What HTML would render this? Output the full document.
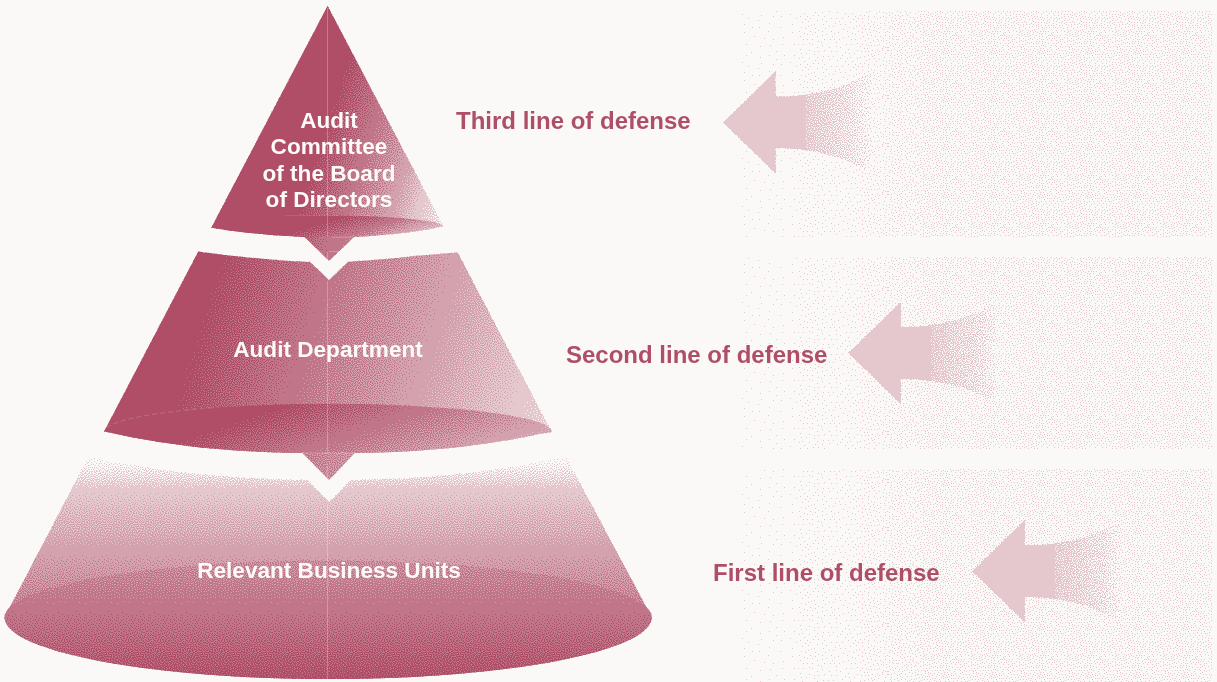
<!DOCTYPE html><html><head><meta charset="utf-8"><title>Three lines of defense</title><style>
html,body{margin:0;padding:0;background:#fbf9f8;}
body{width:1217px;height:682px;overflow:hidden;position:relative;font-family:"Liberation Sans",sans-serif;font-weight:bold;}
svg{position:absolute;left:0;top:0;display:block}
.t{position:absolute;white-space:nowrap;line-height:1;will-change:transform;}
.w{color:#fdfbfa;font-size:22.6px;text-align:center;transform:translateX(-50%);}
.d{color:#af4e67;font-size:24px;}
</style></head><body><svg width="1217" height="682" viewBox="0 0 1217 682"><defs><linearGradient id="g1" gradientUnits="userSpaceOnUse" x1="327.8" y1="119.9" x2="466.5" y2="162.9" ><stop offset="0.0000" stop-color="#ffffff"/><stop offset="0.3060" stop-color="#c1c1c1"/><stop offset="0.6050" stop-color="#818181"/><stop offset="0.7800" stop-color="#414141"/><stop offset="1.0000" stop-color="#131313"/></linearGradient><linearGradient id="g2" gradientUnits="userSpaceOnUse" x1="203.5" y1="311.4" x2="555.6" y2="420.5" ><stop offset="0.0000" stop-color="#ffffff"/><stop offset="0.2925" stop-color="#c1c1c1"/><stop offset="0.6175" stop-color="#818181"/><stop offset="0.8925" stop-color="#414141"/><stop offset="1.0000" stop-color="#2e2e2e"/></linearGradient><linearGradient id="g3" gradientUnits="userSpaceOnUse" x1="0.0" y1="456.0" x2="0.0" y2="682.0" ><stop offset="0.0000" stop-color="#070707"/><stop offset="0.0440" stop-color="#101010"/><stop offset="0.0970" stop-color="#272727"/><stop offset="0.1500" stop-color="#414141"/><stop offset="0.4200" stop-color="#818181"/><stop offset="0.7596" stop-color="#c1c1c1"/><stop offset="1.0000" stop-color="#f3f3f3"/></linearGradient><linearGradient id="ge3" gradientUnits="userSpaceOnUse" x1="0.0" y1="550.0" x2="0.0" y2="682.0" ><stop offset="0.0000" stop-color="#9b9b9b"/><stop offset="0.0076" stop-color="#9b9b9b"/><stop offset="0.0758" stop-color="#9f9f9f"/><stop offset="0.4403" stop-color="#c1c1c1"/><stop offset="0.9848" stop-color="#f9f9f9"/><stop offset="1.0000" stop-color="#fafafa"/></linearGradient><linearGradient id="ge1" gradientUnits="userSpaceOnUse" x1="311.3" y1="221.6" x2="449.9" y2="264.6" gradientTransform="translate(0 226.80) scale(1 0.0980) translate(0 -226.80)"><stop offset="0.0000" stop-color="#ffffff"/><stop offset="0.4300" stop-color="#c1c1c1"/><stop offset="0.7000" stop-color="#818181"/><stop offset="0.9578" stop-color="#414141"/><stop offset="1.0000" stop-color="#393939"/></linearGradient><linearGradient id="ge2" gradientUnits="userSpaceOnUse" x1="216.8" y1="397.3" x2="536.1" y2="496.3" gradientTransform="translate(0 431.80) scale(1 0.1100) translate(0 -431.80)"><stop offset="0.0000" stop-color="#ffffff"/><stop offset="0.4255" stop-color="#c1c1c1"/><stop offset="0.8982" stop-color="#818181"/><stop offset="1.0000" stop-color="#717171"/></linearGradient><linearGradient id="gq1" gradientUnits="userSpaceOnUse" x1="304.0" y1="0.0" x2="355.0" y2="0.0" ><stop offset="0.0000" stop-color="#ebebeb"/><stop offset="0.4000" stop-color="#c5c5c5"/><stop offset="0.5680" stop-color="#c1c1c1"/><stop offset="1.0000" stop-color="#b8b8b8"/></linearGradient><linearGradient id="gq2" gradientUnits="userSpaceOnUse" x1="302.0" y1="0.0" x2="356.0" y2="0.0" ><stop offset="0.0000" stop-color="#b5b5b5"/><stop offset="0.5000" stop-color="#a2a2a2"/><stop offset="1.0000" stop-color="#989898"/></linearGradient><pattern id="bay" width="32" height="32" patternUnits="userSpaceOnUse" shape-rendering="crispEdges"><path fill="#000000" d="M2,0h1v1h-1zM26,7h1v1h-1z"/><path fill="#010101" d="M12,7h1v1h-1zM26,16h1v1h-1zM5,21h1v1h-1zM18,21h1v1h-1z"/><path fill="#020202" d="M19,11h1v1h-1zM4,12h1v1h-1zM12,15h1v1h-1zM27,25h1v1h-1zM16,31h1v1h-1z"/><path fill="#030303" d="M24,0h1v1h-1zM6,5h1v1h-1zM12,22h1v1h-1zM9,28h1v1h-1z"/><path fill="#040404" d="M19,5h1v1h-1zM0,7h1v1h-1zM0,17h1v1h-1zM1,26h1v1h-1z"/><path fill="#050505" d="M11,1h1v1h-1zM29,2h1v1h-1zM30,12h1v1h-1zM21,27h1v1h-1z"/><path fill="#060606" d="M9,11h1v1h-1zM7,16h1v1h-1zM20,16h1v1h-1zM23,21h1v1h-1zM15,26h1v1h-1z"/><path fill="#070707" d="M14,11h1v1h-1zM24,11h1v1h-1zM30,21h1v1h-1zM29,29h1v1h-1z"/><path fill="#080808" d="M6,0h1v1h-1zM15,4h1v1h-1zM15,18h1v1h-1zM6,25h1v1h-1z"/><path fill="#090909" d="M20,0h1v1h-1zM2,4h1v1h-1zM23,4h1v1h-1zM4,8h1v1h-1zM9,19h1v1h-1z"/><path fill="#0a0a0a" d="M22,8h1v1h-1zM16,14h1v1h-1zM4,28h1v1h-1zM25,28h1v1h-1z"/><path fill="#0b0b0b" d="M16,8h1v1h-1zM27,20h1v1h-1zM2,22h1v1h-1zM13,29h1v1h-1z"/><path fill="#0c0c0c" d="M9,4h1v1h-1zM3,16h1v1h-1zM19,24h1v1h-1zM10,25h1v1h-1z"/><path fill="#0d0d0d" d="M8,8h1v1h-1zM29,9h1v1h-1zM23,14h1v1h-1zM23,24h1v1h-1zM18,28h1v1h-1z"/><path fill="#0e0e0e" d="M29,5h1v1h-1zM1,11h1v1h-1zM29,15h1v1h-1zM23,18h1v1h-1z"/><path fill="#0f0f0f" d="M26,3h1v1h-1zM15,22h1v1h-1zM30,25h1v1h-1zM0,30h1v1h-1z"/><path fill="#101010" d="M17,2h1v1h-1zM27,12h1v1h-1zM12,18h1v1h-1zM8,22h1v1h-1z"/><path fill="#111111" d="M7,13h1v1h-1zM18,18h1v1h-1zM3,19h1v1h-1zM9,31h1v1h-1zM27,31h1v1h-1z"/><path fill="#121212" d="M0,2h1v1h-1zM12,4h1v1h-1zM19,8h1v1h-1zM22,30h1v1h-1z"/><path fill="#131313" d="M5,2h1v1h-1zM11,12h1v1h-1zM1,14h1v1h-1zM29,18h1v1h-1z"/><path fill="#141414" d="M14,1h1v1h-1zM21,3h1v1h-1zM20,13h1v1h-1zM26,23h1v1h-1zM13,25h1v1h-1z"/><path fill="#151515" d="M6,18h1v1h-1zM21,20h1v1h-1zM3,24h1v1h-1zM6,29h1v1h-1z"/><path fill="#161616" d="M12,9h1v1h-1zM6,10h1v1h-1zM9,15h1v1h-1zM0,20h1v1h-1z"/><path fill="#171717" d="M3,6h1v1h-1zM26,9h1v1h-1zM16,11h1v1h-1zM17,25h1v1h-1z"/><path fill="#181818" d="M30,0h1v1h-1zM8,2h1v1h-1zM24,6h1v1h-1zM24,26h1v1h-1zM2,29h1v1h-1z"/><path fill="#191919" d="M16,6h1v1h-1zM14,15h1v1h-1zM31,23h1v1h-1zM19,30h1v1h-1z"/><path fill="#1a1a1a" d="M1,9h1v1h-1zM22,11h1v1h-1zM28,27h1v1h-1zM11,28h1v1h-1z"/><path fill="#1b1b1b" d="M9,6h1v1h-1zM18,15h1v1h-1zM25,19h1v1h-1zM13,20h1v1h-1z"/><path fill="#1c1c1c" d="M31,5h1v1h-1zM4,14h1v1h-1zM26,14h1v1h-1zM21,23h1v1h-1zM15,29h1v1h-1z"/><path fill="#1d1d1d" d="M10,21h1v1h-1zM8,25h1v1h-1zM31,27h1v1h-1zM12,31h1v1h-1z"/><path fill="#1e1e1e" d="M26,1h1v1h-1zM21,6h1v1h-1zM22,16h1v1h-1zM4,31h1v1h-1z"/><path fill="#1f1f1f" d="M19,2h1v1h-1zM27,5h1v1h-1zM31,14h1v1h-1zM16,20h1v1h-1zM28,22h1v1h-1z"/><path fill="#202020" d="M30,9h1v1h-1zM10,17h1v1h-1zM4,26h1v1h-1zM24,30h1v1h-1z"/><path fill="#212121" d="M3,2h1v1h-1zM6,7h1v1h-1zM14,7h1v1h-1zM6,22h1v1h-1z"/><path fill="#222222" d="M23,2h1v1h-1zM10,9h1v1h-1zM13,13h1v1h-1zM20,26h1v1h-1z"/><path fill="#232323" d="M3,10h1v1h-1zM28,17h1v1h-1zM2,18h1v1h-1zM20,19h1v1h-1zM16,23h1v1h-1z"/><path fill="#242424" d="M13,3h1v1h-1zM18,10h1v1h-1zM11,24h1v1h-1zM7,28h1v1h-1z"/><path fill="#252525" d="M24,9h1v1h-1zM16,17h1v1h-1zM25,22h1v1h-1zM27,29h1v1h-1z"/><path fill="#262626" d="M17,0h1v1h-1zM9,13h1v1h-1zM5,16h1v1h-1zM1,24h1v1h-1z"/><path fill="#272727" d="M5,4h1v1h-1zM18,5h1v1h-1zM28,11h1v1h-1zM7,19h1v1h-1zM8,31h1v1h-1z"/><path fill="#282828" d="M31,3h1v1h-1zM24,16h1v1h-1zM13,27h1v1h-1zM22,28h1v1h-1z"/><path fill="#292929" d="M29,7h1v1h-1zM31,18h1v1h-1zM17,28h1v1h-1zM31,30h1v1h-1z"/><path fill="#2a2a2a" d="M10,2h1v1h-1zM21,9h1v1h-1zM6,11h1v1h-1zM17,13h1v1h-1zM19,22h1v1h-1z"/><path fill="#2b2b2b" d="M22,0h1v1h-1zM11,6h1v1h-1zM0,12h1v1h-1zM24,13h1v1h-1z"/><path fill="#2c2c2c" d="M1,6h1v1h-1zM14,9h1v1h-1zM3,21h1v1h-1zM29,24h1v1h-1z"/><path fill="#2d2d2d" d="M14,0h1v1h-1zM28,1h1v1h-1zM13,17h1v1h-1zM25,26h1v1h-1z"/><path fill="#2e2e2e" d="M21,13h1v1h-1zM28,14h1v1h-1zM14,23h1v1h-1zM5,24h1v1h-1zM2,27h1v1h-1z"/><path fill="#2f2f2f" d="M1,0h1v1h-1zM16,3h1v1h-1zM25,4h1v1h-1zM26,18h1v1h-1z"/><path fill="#303030" d="M7,3h1v1h-1zM1,15h1v1h-1zM9,23h1v1h-1zM11,30h1v1h-1z"/><path fill="#313131" d="M6,14h1v1h-1zM19,17h1v1h-1zM11,20h1v1h-1zM22,24h1v1h-1z"/><path fill="#323232" d="M18,8h1v1h-1zM12,11h1v1h-1zM29,20h1v1h-1zM9,27h1v1h-1zM20,29h1v1h-1z"/><path fill="#333333" d="M8,9h1v1h-1zM10,15h1v1h-1zM23,20h1v1h-1zM4,30h1v1h-1z"/><path fill="#343434" d="M22,6h1v1h-1zM3,8h1v1h-1zM26,10h1v1h-1zM30,27h1v1h-1z"/><path fill="#353535" d="M3,12h1v1h-1zM5,19h1v1h-1zM0,21h1v1h-1zM17,26h1v1h-1zM26,30h1v1h-1z"/><path fill="#363636" d="M20,2h1v1h-1zM2,3h1v1h-1zM14,5h1v1h-1zM31,10h1v1h-1z"/><path fill="#373737" d="M28,4h1v1h-1zM15,13h1v1h-1zM30,16h1v1h-1zM15,20h1v1h-1z"/><path fill="#383838" d="M7,0h1v1h-1zM8,6h1v1h-1zM6,27h1v1h-1zM29,31h1v1h-1z"/><path fill="#393939" d="M27,7h1v1h-1zM19,14h1v1h-1zM9,18h1v1h-1zM12,26h1v1h-1zM18,31h1v1h-1z"/><path fill="#3a3a3a" d="M22,17h1v1h-1zM18,20h1v1h-1zM26,24h1v1h-1zM15,28h1v1h-1z"/><path fill="#3b3b3b" d="M24,2h1v1h-1zM11,3h1v1h-1zM16,10h1v1h-1zM16,16h1v1h-1z"/><path fill="#3c3c3c" d="M4,5h1v1h-1zM21,10h1v1h-1zM0,24h1v1h-1zM1,28h1v1h-1z"/><path fill="#3d3d3d" d="M31,7h1v1h-1zM25,13h1v1h-1zM3,17h1v1h-1zM7,21h1v1h-1zM23,28h1v1h-1z"/><path fill="#3e3e3e" d="M24,7h1v1h-1zM26,21h1v1h-1zM19,25h1v1h-1zM27,27h1v1h-1z"/><path fill="#3f3f3f" d="M31,1h1v1h-1zM18,4h1v1h-1zM5,9h1v1h-1zM21,22h1v1h-1z"/><path fill="#404040" d="M4,1h1v1h-1zM11,13h1v1h-1zM4,23h1v1h-1zM12,23h1v1h-1zM14,31h1v1h-1z"/><path fill="#414141" d="M10,0h1v1h-1zM11,8h1v1h-1zM8,11h1v1h-1zM29,13h1v1h-1z"/><path fill="#424242" d="M2,13h1v1h-1zM7,15h1v1h-1zM1,19h1v1h-1zM17,23h1v1h-1z"/><path fill="#434343" d="M26,17h1v1h-1zM13,18h1v1h-1zM8,24h1v1h-1zM21,31h1v1h-1z"/><path fill="#444444" d="M0,4h1v1h-1zM21,4h1v1h-1zM17,7h1v1h-1zM29,23h1v1h-1zM9,29h1v1h-1z"/><path fill="#454545" d="M25,0h1v1h-1zM15,2h1v1h-1zM22,14h1v1h-1zM23,25h1v1h-1z"/><path fill="#464646" d="M8,4h1v1h-1zM28,9h1v1h-1zM18,12h1v1h-1zM15,25h1v1h-1z"/><path fill="#474747" d="M28,3h1v1h-1zM13,15h1v1h-1zM30,29h1v1h-1zM6,30h1v1h-1z"/><path fill="#484848" d="M13,6h1v1h-1zM1,8h1v1h-1zM21,19h1v1h-1zM29,19h1v1h-1zM3,26h1v1h-1z"/><path fill="#494949" d="M20,7h1v1h-1zM24,10h1v1h-1zM0,16h1v1h-1zM2,30h1v1h-1z"/><path fill="#4a4a4a" d="M13,10h1v1h-1zM13,21h1v1h-1zM24,22h1v1h-1zM19,28h1v1h-1z"/><path fill="#4b4b4b" d="M5,7h1v1h-1zM5,13h1v1h-1zM8,17h1v1h-1zM17,18h1v1h-1zM12,28h1v1h-1z"/><path fill="#4c4c4c" d="M25,5h1v1h-1zM9,21h1v1h-1zM1,22h1v1h-1zM16,30h1v1h-1z"/><path fill="#4d4d4d" d="M12,1h1v1h-1zM31,11h1v1h-1zM27,15h1v1h-1zM7,26h1v1h-1z"/><path fill="#4e4e4e" d="M18,1h1v1h-1zM6,2h1v1h-1zM4,20h1v1h-1zM25,29h1v1h-1z"/><path fill="#4f4f4f" d="M22,1h1v1h-1zM10,5h1v1h-1zM4,16h1v1h-1zM24,18h1v1h-1zM29,26h1v1h-1z"/><path fill="#505050" d="M29,6h1v1h-1zM10,10h1v1h-1zM21,11h1v1h-1zM21,26h1v1h-1z"/><path fill="#515151" d="M28,0h1v1h-1zM1,1h1v1h-1zM19,16h1v1h-1zM11,17h1v1h-1z"/><path fill="#525252" d="M15,8h1v1h-1zM26,12h1v1h-1zM0,26h1v1h-1zM10,26h1v1h-1z"/><path fill="#535353" d="M2,5h1v1h-1zM7,8h1v1h-1zM2,10h1v1h-1zM14,13h1v1h-1zM19,21h1v1h-1z"/><path fill="#545454" d="M16,5h1v1h-1zM8,13h1v1h-1zM28,21h1v1h-1zM6,23h1v1h-1z"/><path fill="#555555" d="M30,14h1v1h-1zM14,24h1v1h-1zM26,25h1v1h-1zM5,28h1v1h-1z"/><path fill="#565656" d="M9,1h1v1h-1zM30,3h1v1h-1zM23,8h1v1h-1zM24,15h1v1h-1zM31,19h1v1h-1z"/><path fill="#575757" d="M26,2h1v1h-1zM16,15h1v1h-1zM12,30h1v1h-1zM23,30h1v1h-1z"/><path fill="#585858" d="M22,4h1v1h-1zM19,10h1v1h-1zM6,19h1v1h-1zM16,27h1v1h-1z"/><path fill="#595959" d="M4,0h1v1h-1zM5,11h1v1h-1zM15,19h1v1h-1zM31,31h1v1h-1z"/><path fill="#5a5a5a" d="M13,4h1v1h-1zM2,14h1v1h-1zM11,14h1v1h-1zM25,20h1v1h-1zM2,24h1v1h-1z"/><path fill="#5b5b5b" d="M5,5h1v1h-1zM28,10h1v1h-1zM11,21h1v1h-1zM18,24h1v1h-1z"/><path fill="#5c5c5c" d="M21,15h1v1h-1zM22,22h1v1h-1zM28,29h1v1h-1zM19,31h1v1h-1z"/><path fill="#5d5d5d" d="M19,6h1v1h-1zM10,7h1v1h-1zM31,22h1v1h-1zM8,30h1v1h-1z"/><path fill="#5e5e5e" d="M16,1h1v1h-1zM31,8h1v1h-1zM15,11h1v1h-1zM29,17h1v1h-1zM0,28h1v1h-1z"/><path fill="#5f5f5f" d="M26,6h1v1h-1zM23,12h1v1h-1zM21,18h1v1h-1zM23,27h1v1h-1z"/><path fill="#606060" d="M6,16h1v1h-1zM2,20h1v1h-1zM16,21h1v1h-1zM10,24h1v1h-1z"/><path fill="#616161" d="M3,3h1v1h-1zM19,3h1v1h-1zM18,13h1v1h-1zM10,19h1v1h-1zM28,24h1v1h-1z"/><path fill="#626262" d="M1,17h1v1h-1zM5,25h1v1h-1zM14,28h1v1h-1zM3,29h1v1h-1z"/><path fill="#636363" d="M13,1h1v1h-1zM11,11h1v1h-1zM31,12h1v1h-1zM19,27h1v1h-1z"/><path fill="#646464" d="M7,5h1v1h-1zM2,7h1v1h-1zM14,16h1v1h-1zM24,24h1v1h-1z"/><path fill="#656565" d="M30,5h1v1h-1zM26,8h1v1h-1zM17,9h1v1h-1zM27,19h1v1h-1zM26,31h1v1h-1z"/><path fill="#666666" d="M24,3h1v1h-1zM7,11h1v1h-1zM27,13h1v1h-1zM26,27h1v1h-1z"/><path fill="#676767" d="M7,1h1v1h-1zM13,8h1v1h-1zM18,19h1v1h-1zM12,25h1v1h-1z"/><path fill="#686868" d="M9,16h1v1h-1zM4,22h1v1h-1zM20,24h1v1h-1zM17,30h1v1h-1z"/><path fill="#696969" d="M11,4h1v1h-1zM21,8h1v1h-1zM8,20h1v1h-1zM31,25h1v1h-1zM10,29h1v1h-1z"/><path fill="#6a6a6a" d="M2,11h1v1h-1zM25,16h1v1h-1zM21,30h1v1h-1zM1,31h1v1h-1z"/><path fill="#6b6b6b" d="M30,1h1v1h-1zM16,4h1v1h-1zM4,18h1v1h-1zM13,19h1v1h-1z"/><path fill="#6c6c6c" d="M21,1h1v1h-1zM5,8h1v1h-1zM31,15h1v1h-1zM15,23h1v1h-1zM8,27h1v1h-1z"/><path fill="#6d6d6d" d="M23,6h1v1h-1zM5,14h1v1h-1zM18,16h1v1h-1zM23,19h1v1h-1z"/><path fill="#6e6e6e" d="M1,3h1v1h-1zM9,8h1v1h-1zM25,11h1v1h-1zM21,12h1v1h-1z"/><path fill="#6f6f6f" d="M27,22h1v1h-1zM8,23h1v1h-1zM14,30h1v1h-1zM5,31h1v1h-1z"/><path fill="#707070" d="M27,3h1v1h-1zM29,11h1v1h-1zM13,12h1v1h-1zM3,27h1v1h-1zM29,28h1v1h-1z"/><path fill="#717171" d="M9,2h1v1h-1zM28,7h1v1h-1zM20,21h1v1h-1zM31,21h1v1h-1z"/><path fill="#727272" d="M17,12h1v1h-1zM9,14h1v1h-1zM28,16h1v1h-1zM24,31h1v1h-1z"/><path fill="#737373" d="M5,3h1v1h-1zM15,7h1v1h-1zM0,9h1v1h-1zM2,15h1v1h-1z"/><path fill="#747474" d="M20,5h1v1h-1zM12,16h1v1h-1zM14,26h1v1h-1zM22,26h1v1h-1zM11,31h1v1h-1z"/><path fill="#757575" d="M14,2h1v1h-1zM0,5h1v1h-1zM22,15h1v1h-1zM13,22h1v1h-1z"/><path fill="#767676" d="M4,10h1v1h-1zM2,23h1v1h-1zM24,23h1v1h-1zM18,27h1v1h-1z"/><path fill="#777777" d="M23,9h1v1h-1zM7,18h1v1h-1zM17,22h1v1h-1zM7,29h1v1h-1zM28,31h1v1h-1z"/><path fill="#787878" d="M18,2h1v1h-1zM19,9h1v1h-1zM11,27h1v1h-1zM0,29h1v1h-1z"/><path fill="#797979" d="M12,6h1v1h-1zM15,17h1v1h-1zM0,18h1v1h-1zM29,25h1v1h-1z"/><path fill="#7a7a7a" d="M7,6h1v1h-1zM9,10h1v1h-1zM6,21h1v1h-1zM5,26h1v1h-1z"/><path fill="#7b7b7b" d="M2,1h1v1h-1zM24,1h1v1h-1zM0,13h1v1h-1zM20,18h1v1h-1zM24,28h1v1h-1z"/><path fill="#7c7c7c" d="M25,14h1v1h-1zM27,18h1v1h-1zM10,22h1v1h-1zM21,29h1v1h-1z"/><path fill="#7d7d7d" d="M16,0h1v1h-1zM17,6h1v1h-1zM3,7h1v1h-1zM15,10h1v1h-1z"/><path fill="#7e7e7e" d="M24,5h1v1h-1zM15,14h1v1h-1zM20,14h1v1h-1zM24,20h1v1h-1z"/><path fill="#7f7f7f" d="M29,3h1v1h-1zM6,13h1v1h-1zM11,19h1v1h-1zM1,25h1v1h-1zM16,25h1v1h-1z"/><path fill="#808080" d="M10,3h1v1h-1zM27,10h1v1h-1zM3,20h1v1h-1zM29,22h1v1h-1z"/><path fill="#818181" d="M30,7h1v1h-1zM20,23h1v1h-1zM7,25h1v1h-1zM26,26h1v1h-1z"/><path fill="#828282" d="M21,2h1v1h-1zM10,12h1v1h-1zM4,17h1v1h-1zM17,29h1v1h-1z"/><path fill="#838383" d="M31,0h1v1h-1zM3,13h1v1h-1zM28,13h1v1h-1zM30,18h1v1h-1zM7,31h1v1h-1z"/><path fill="#848484" d="M14,4h1v1h-1zM23,17h1v1h-1zM17,19h1v1h-1zM3,30h1v1h-1z"/><path fill="#858585" d="M27,1h1v1h-1zM4,4h1v1h-1zM7,9h1v1h-1zM23,11h1v1h-1z"/><path fill="#868686" d="M12,0h1v1h-1zM19,0h1v1h-1zM13,9h1v1h-1zM11,15h1v1h-1zM14,20h1v1h-1z"/><path fill="#878787" d="M25,8h1v1h-1zM17,15h1v1h-1zM12,24h1v1h-1zM30,28h1v1h-1z"/><path fill="#888888" d="M19,7h1v1h-1zM0,10h1v1h-1zM22,21h1v1h-1zM26,29h1v1h-1z"/><path fill="#898989" d="M10,6h1v1h-1zM19,12h1v1h-1zM8,16h1v1h-1zM5,23h1v1h-1z"/><path fill="#8a8a8a" d="M7,2h1v1h-1zM26,5h1v1h-1zM21,25h1v1h-1zM9,26h1v1h-1zM13,28h1v1h-1z"/><path fill="#8b8b8b" d="M30,15h1v1h-1zM1,21h1v1h-1zM26,22h1v1h-1zM31,24h1v1h-1z"/><path fill="#8c8c8c" d="M0,3h1v1h-1zM21,5h1v1h-1zM4,27h1v1h-1zM10,30h1v1h-1z"/><path fill="#8d8d8d" d="M17,3h1v1h-1zM3,9h1v1h-1zM17,24h1v1h-1zM20,28h1v1h-1z"/><path fill="#8e8e8e" d="M23,0h1v1h-1zM3,1h1v1h-1zM17,10h1v1h-1zM12,13h1v1h-1zM8,19h1v1h-1z"/><path fill="#8f8f8f" d="M0,6h1v1h-1zM11,9h1v1h-1zM2,16h1v1h-1zM28,20h1v1h-1z"/><path fill="#909090" d="M7,12h1v1h-1zM26,15h1v1h-1zM20,17h1v1h-1zM15,31h1v1h-1z"/><path fill="#919191" d="M14,6h1v1h-1zM28,8h1v1h-1zM23,13h1v1h-1zM28,26h1v1h-1zM1,27h1v1h-1z"/><path fill="#929292" d="M12,2h1v1h-1zM8,5h1v1h-1zM24,25h1v1h-1zM29,30h1v1h-1z"/><path fill="#939393" d="M23,3h1v1h-1zM30,11h1v1h-1zM11,18h1v1h-1zM10,23h1v1h-1z"/><path fill="#949494" d="M4,6h1v1h-1zM22,9h1v1h-1zM25,18h1v1h-1zM5,29h1v1h-1z"/><path fill="#959595" d="M28,5h1v1h-1zM15,12h1v1h-1zM5,17h1v1h-1zM19,20h1v1h-1zM15,27h1v1h-1z"/><path fill="#969696" d="M9,0h1v1h-1zM2,12h1v1h-1zM14,17h1v1h-1zM14,22h1v1h-1z"/><path fill="#979797" d="M31,20h1v1h-1zM7,22h1v1h-1zM3,25h1v1h-1zM23,29h1v1h-1z"/><path fill="#989898" d="M5,1h1v1h-1zM26,11h1v1h-1zM18,30h1v1h-1zM0,31h1v1h-1z"/><path fill="#999999" d="M26,0h1v1h-1zM6,9h1v1h-1zM31,16h1v1h-1zM23,22h1v1h-1zM8,28h1v1h-1z"/><path fill="#9a9a9a" d="M17,8h1v1h-1zM17,17h1v1h-1zM2,19h1v1h-1zM18,26h1v1h-1z"/><path fill="#9b9b9b" d="M30,2h1v1h-1zM20,11h1v1h-1zM8,14h1v1h-1zM27,24h1v1h-1z"/><path fill="#9c9c9c" d="M19,4h1v1h-1zM5,20h1v1h-1zM18,22h1v1h-1zM11,26h1v1h-1zM13,30h1v1h-1z"/><path fill="#9d9d9d" d="M21,0h1v1h-1zM23,7h1v1h-1zM4,15h1v1h-1zM20,15h1v1h-1z"/><path fill="#9e9e9e" d="M25,3h1v1h-1zM2,6h1v1h-1zM30,23h1v1h-1zM27,28h1v1h-1z"/><path fill="#9f9f9f" d="M7,4h1v1h-1zM12,5h1v1h-1zM12,10h1v1h-1zM28,15h1v1h-1z"/><path fill="#a0a0a0" d="M16,2h1v1h-1zM30,8h1v1h-1zM14,14h1v1h-1zM23,16h1v1h-1zM3,23h1v1h-1z"/><path fill="#a1a1a1" d="M4,11h1v1h-1zM31,13h1v1h-1zM12,20h1v1h-1zM0,27h1v1h-1z"/><path fill="#a2a2a2" d="M9,7h1v1h-1zM26,20h1v1h-1zM7,24h1v1h-1zM3,31h1v1h-1z"/><path fill="#a3a3a3" d="M9,17h1v1h-1zM22,19h1v1h-1zM21,24h1v1h-1zM14,25h1v1h-1z"/><path fill="#a4a4a4" d="M20,8h1v1h-1zM9,12h1v1h-1zM17,14h1v1h-1zM16,19h1v1h-1zM24,27h1v1h-1z"/><path fill="#a5a5a5" d="M30,4h1v1h-1zM17,5h1v1h-1zM25,9h1v1h-1zM28,18h1v1h-1z"/><path fill="#a6a6a6" d="M29,0h1v1h-1zM11,2h1v1h-1zM3,4h1v1h-1zM16,29h1v1h-1z"/><path fill="#a7a7a7" d="M14,8h1v1h-1zM2,9h1v1h-1zM28,12h1v1h-1zM9,20h1v1h-1zM6,31h1v1h-1z"/><path fill="#a8a8a8" d="M19,1h1v1h-1zM0,23h1v1h-1zM7,27h1v1h-1zM21,28h1v1h-1z"/><path fill="#a9a9a9" d="M24,12h1v1h-1zM1,18h1v1h-1zM1,29h1v1h-1zM11,29h1v1h-1z"/><path fill="#aaaaaa" d="M1,2h1v1h-1zM22,5h1v1h-1zM7,7h1v1h-1zM11,16h1v1h-1z"/><path fill="#ababab" d="M27,6h1v1h-1zM6,15h1v1h-1zM16,22h1v1h-1zM11,23h1v1h-1zM25,23h1v1h-1z"/><path fill="#acacac" d="M27,2h1v1h-1zM14,3h1v1h-1zM30,26h1v1h-1zM25,30h1v1h-1z"/><path fill="#adadad" d="M9,3h1v1h-1zM17,11h1v1h-1zM1,13h1v1h-1zM30,20h1v1h-1z"/><path fill="#aeaeae" d="M31,9h1v1h-1zM12,12h1v1h-1zM25,15h1v1h-1zM20,20h1v1h-1z"/><path fill="#afafaf" d="M15,0h1v1h-1zM8,10h1v1h-1zM21,14h1v1h-1zM4,21h1v1h-1zM19,26h1v1h-1z"/><path fill="#b0b0b0" d="M5,12h1v1h-1zM14,18h1v1h-1zM20,30h1v1h-1zM30,30h1v1h-1z"/><path fill="#b1b1b1" d="M8,0h1v1h-1zM22,2h1v1h-1zM11,7h1v1h-1zM4,25h1v1h-1z"/><path fill="#b2b2b2" d="M6,3h1v1h-1zM16,7h1v1h-1zM20,10h1v1h-1zM5,18h1v1h-1zM12,27h1v1h-1z"/><path fill="#b3b3b3" d="M31,6h1v1h-1zM1,16h1v1h-1zM18,17h1v1h-1zM4,29h1v1h-1z"/><path fill="#b4b4b4" d="M5,6h1v1h-1zM19,23h1v1h-1zM28,23h1v1h-1zM9,25h1v1h-1z"/><path fill="#b5b5b5" d="M27,9h1v1h-1zM27,17h1v1h-1zM8,21h1v1h-1zM16,26h1v1h-1z"/><path fill="#b6b6b6" d="M25,6h1v1h-1zM24,19h1v1h-1zM14,21h1v1h-1zM23,26h1v1h-1zM23,31h1v1h-1z"/><path fill="#b7b7b7" d="M11,0h1v1h-1zM0,1h1v1h-1zM13,14h1v1h-1zM28,28h1v1h-1z"/><path fill="#b8b8b8" d="M20,6h1v1h-1zM14,10h1v1h-1zM18,14h1v1h-1zM30,17h1v1h-1z"/><path fill="#b9b9b9" d="M4,2h1v1h-1zM22,12h1v1h-1zM29,12h1v1h-1zM8,29h1v1h-1z"/><path fill="#bababa" d="M18,0h1v1h-1zM7,17h1v1h-1zM21,17h1v1h-1zM2,21h1v1h-1zM23,23h1v1h-1z"/><path fill="#bbbbbb" d="M25,2h1v1h-1zM3,14h1v1h-1zM10,14h1v1h-1zM13,24h1v1h-1z"/><path fill="#bcbcbc" d="M1,5h1v1h-1zM15,5h1v1h-1zM1,10h1v1h-1zM2,26h1v1h-1z"/><path fill="#bdbdbd" d="M20,3h1v1h-1zM10,4h1v1h-1zM5,10h1v1h-1zM26,13h1v1h-1zM14,29h1v1h-1z"/><path fill="#bebebe" d="M9,9h1v1h-1zM15,16h1v1h-1zM6,24h1v1h-1zM27,26h1v1h-1z"/><path fill="#bfbfbf" d="M27,4h1v1h-1zM18,29h1v1h-1zM27,30h1v1h-1zM2,31h1v1h-1z"/><path fill="#c0c0c0" d="M23,10h1v1h-1zM12,19h1v1h-1zM17,20h1v1h-1zM27,21h1v1h-1z"/><path fill="#c1c1c1" d="M13,0h1v1h-1zM16,12h1v1h-1zM21,21h1v1h-1zM31,26h1v1h-1zM5,27h1v1h-1z"/><path fill="#c2c2c2" d="M29,10h1v1h-1zM24,17h1v1h-1zM0,22h1v1h-1zM11,22h1v1h-1z"/><path fill="#c3c3c3" d="M29,1h1v1h-1zM22,7h1v1h-1zM0,14h1v1h-1zM7,14h1v1h-1z"/><path fill="#c4c4c4" d="M2,8h1v1h-1zM18,9h1v1h-1zM6,20h1v1h-1zM10,28h1v1h-1z"/><path fill="#c5c5c5" d="M5,0h1v1h-1zM13,7h1v1h-1zM16,24h1v1h-1zM20,25h1v1h-1zM31,29h1v1h-1z"/><path fill="#c6c6c6" d="M17,4h1v1h-1zM11,10h1v1h-1zM3,18h1v1h-1zM25,25h1v1h-1z"/><path fill="#c7c7c7" d="M6,6h1v1h-1zM29,14h1v1h-1zM30,19h1v1h-1zM22,29h1v1h-1z"/><path fill="#c8c8c8" d="M13,2h1v1h-1zM24,4h1v1h-1zM31,4h1v1h-1zM19,13h1v1h-1zM10,18h1v1h-1z"/><path fill="#c9c9c9" d="M8,1h1v1h-1zM28,6h1v1h-1zM23,15h1v1h-1zM24,21h1v1h-1z"/><path fill="#cacaca" d="M13,16h1v1h-1zM19,18h1v1h-1zM9,24h1v1h-1zM16,28h1v1h-1z"/><path fill="#cbcbcb" d="M17,1h1v1h-1zM8,12h1v1h-1zM2,28h1v1h-1zM25,31h1v1h-1z"/><path fill="#cccccc" d="M18,7h1v1h-1zM25,10h1v1h-1zM30,22h1v1h-1zM13,26h1v1h-1zM10,31h1v1h-1z"/><path fill="#cdcdcd" d="M11,5h1v1h-1zM0,11h1v1h-1zM4,13h1v1h-1zM3,22h1v1h-1z"/><path fill="#cecece" d="M2,2h1v1h-1zM14,12h1v1h-1zM27,16h1v1h-1zM6,28h1v1h-1z"/><path fill="#cfcfcf" d="M6,8h1v1h-1zM15,21h1v1h-1zM25,27h1v1h-1zM20,31h1v1h-1z"/><path fill="#d0d0d0" d="M22,3h1v1h-1zM3,5h1v1h-1zM29,8h1v1h-1zM15,9h1v1h-1zM0,19h1v1h-1z"/><path fill="#d1d1d1" d="M25,7h1v1h-1zM18,23h1v1h-1zM0,25h1v1h-1zM20,27h1v1h-1z"/><path fill="#d2d2d2" d="M27,0h1v1h-1zM17,16h1v1h-1zM8,18h1v1h-1zM26,19h1v1h-1z"/><path fill="#d3d3d3" d="M0,0h1v1h-1zM20,12h1v1h-1zM10,13h1v1h-1zM7,23h1v1h-1zM28,25h1v1h-1z"/><path fill="#d4d4d4" d="M8,3h1v1h-1zM1,7h1v1h-1zM22,23h1v1h-1zM15,30h1v1h-1z"/><path fill="#d5d5d5" d="M10,8h1v1h-1zM25,12h1v1h-1zM5,15h1v1h-1zM7,30h1v1h-1z"/><path fill="#d6d6d6" d="M15,3h1v1h-1zM0,15h1v1h-1zM22,18h1v1h-1zM12,21h1v1h-1z"/><path fill="#d7d7d7" d="M23,1h1v1h-1zM29,4h1v1h-1zM4,9h1v1h-1zM4,24h1v1h-1zM10,27h1v1h-1z"/><path fill="#d8d8d8" d="M20,4h1v1h-1zM13,5h1v1h-1zM20,9h1v1h-1zM10,16h1v1h-1z"/><path fill="#d9d9d9" d="M4,3h1v1h-1zM29,16h1v1h-1zM2,17h1v1h-1zM27,23h1v1h-1z"/><path fill="#dadada" d="M16,18h1v1h-1zM17,27h1v1h-1zM24,29h1v1h-1zM30,31h1v1h-1z"/><path fill="#dbdbdb" d="M16,13h1v1h-1zM24,14h1v1h-1zM7,20h1v1h-1zM29,27h1v1h-1zM12,29h1v1h-1z"/><path fill="#dcdcdc" d="M7,10h1v1h-1zM1,23h1v1h-1zM15,24h1v1h-1zM22,25h1v1h-1z"/><path fill="#dddddd" d="M24,8h1v1h-1zM1,12h1v1h-1zM8,26h1v1h-1zM3,28h1v1h-1z"/><path fill="#dedede" d="M3,0h1v1h-1zM9,5h1v1h-1zM30,10h1v1h-1zM21,16h1v1h-1zM29,21h1v1h-1z"/><path fill="#dfdfdf" d="M15,1h1v1h-1zM28,2h1v1h-1zM18,6h1v1h-1zM20,22h1v1h-1z"/><path fill="#e0e0e0" d="M20,1h1v1h-1zM12,14h1v1h-1zM4,19h1v1h-1zM9,22h1v1h-1z"/><path fill="#e1e1e1" d="M10,1h1v1h-1zM16,9h1v1h-1zM27,11h1v1h-1zM25,21h1v1h-1z"/><path fill="#e2e2e2" d="M23,5h1v1h-1zM30,6h1v1h-1zM14,19h1v1h-1zM19,19h1v1h-1zM19,29h1v1h-1z"/><path fill="#e3e3e3" d="M6,1h1v1h-1zM22,10h1v1h-1zM13,11h1v1h-1zM31,28h1v1h-1z"/><path fill="#e4e4e4" d="M1,4h1v1h-1zM8,15h1v1h-1zM11,25h1v1h-1zM26,28h1v1h-1z"/><path fill="#e5e5e5" d="M25,1h1v1h-1zM3,11h1v1h-1zM27,14h1v1h-1zM31,17h1v1h-1z"/><path fill="#e6e6e6" d="M6,4h1v1h-1zM12,8h1v1h-1zM19,15h1v1h-1zM12,17h1v1h-1zM13,31h1v1h-1z"/><path fill="#e7e7e7" d="M3,15h1v1h-1zM25,17h1v1h-1zM2,25h1v1h-1zM5,30h1v1h-1z"/><path fill="#e8e8e8" d="M18,3h1v1h-1zM4,7h1v1h-1zM13,23h1v1h-1zM22,27h1v1h-1z"/><path fill="#e9e9e9" d="M27,8h1v1h-1zM10,11h1v1h-1zM18,11h1v1h-1zM5,22h1v1h-1zM18,25h1v1h-1z"/><path fill="#eaeaea" d="M31,2h1v1h-1zM12,3h1v1h-1zM6,17h1v1h-1zM30,24h1v1h-1z"/><path fill="#ebebeb" d="M22,20h1v1h-1zM9,30h1v1h-1zM28,30h1v1h-1zM17,31h1v1h-1z"/><path fill="#ececec" d="M8,7h1v1h-1zM21,7h1v1h-1zM0,8h1v1h-1zM28,19h1v1h-1z"/><path fill="#ededed" d="M30,13h1v1h-1zM15,15h1v1h-1zM17,21h1v1h-1zM6,26h1v1h-1zM22,31h1v1h-1z"/><path fill="#eeeeee" d="M26,4h1v1h-1zM15,6h1v1h-1zM6,12h1v1h-1zM10,20h1v1h-1z"/><path fill="#efefef" d="M22,13h1v1h-1zM25,24h1v1h-1zM14,27h1v1h-1zM1,30h1v1h-1z"/><path fill="#f0f0f0" d="M1,20h1v1h-1z"/></pattern><filter id="quant" x="0" y="0" width="100%" height="100%" filterUnits="objectBoundingBox" color-interpolation-filters="sRGB"><feComponentTransfer><feFuncR type="discrete" tableValues="0.9843 0.8991 0.8335 0.7560 0.6863"/><feFuncG type="discrete" tableValues="0.9765 0.7847 0.6372 0.4628 0.3059"/><feFuncB type="discrete" tableValues="0.9725 0.8099 0.6848 0.5370 0.4039"/></feComponentTransfer></filter><pattern id="dA" width="48" height="48" patternUnits="userSpaceOnUse" shape-rendering="crispEdges"><path fill="#e5c6cd" d="M0,31h1v1h-1zM1,7h1v1h-1zM1,23h1v1h-1zM2,45h1v1h-1zM5,16h1v1h-1zM5,39h1v1h-1zM8,3h1v1h-1zM8,11h1v1h-1zM12,27h1v1h-1zM13,16h1v1h-1zM14,44h1v1h-1zM15,37h1v1h-1zM16,7h1v1h-1zM22,14h1v1h-1zM24,24h1v1h-1zM24,32h1v1h-1zM26,7h1v1h-1zM26,44h1v1h-1zM28,18h1v1h-1zM31,4h1v1h-1zM32,27h1v1h-1zM34,36h1v1h-1zM38,20h1v1h-1zM39,27h1v1h-1zM40,9h1v1h-1zM40,46h1v1h-1zM41,15h1v1h-1zM44,38h1v1h-1z"/></pattern><pattern id="dB" width="48" height="48" patternUnits="userSpaceOnUse" shape-rendering="crispEdges"><path fill="#e5c6cd" d="M1,9h1v1h-1zM1,20h1v1h-1zM1,36h1v1h-1zM1,47h1v1h-1zM2,3h1v1h-1zM2,15h1v1h-1zM2,30h1v1h-1zM2,41h1v1h-1zM5,42h1v1h-1zM6,12h1v1h-1zM6,19h1v1h-1zM6,31h1v1h-1zM6,35h1v1h-1zM6,45h1v1h-1zM7,8h1v1h-1zM7,24h1v1h-1zM8,2h1v1h-1zM8,16h1v1h-1zM8,39h1v1h-1zM9,28h1v1h-1zM10,21h1v1h-1zM10,34h1v1h-1zM12,8h1v1h-1zM13,11h1v1h-1zM13,26h1v1h-1zM13,47h1v1h-1zM14,39h1v1h-1zM15,3h1v1h-1zM15,18h1v1h-1zM15,31h1v1h-1zM16,36h1v1h-1zM17,8h1v1h-1zM17,26h1v1h-1zM18,33h1v1h-1zM18,39h1v1h-1zM19,23h1v1h-1zM20,3h1v1h-1zM20,18h1v1h-1zM20,42h1v1h-1zM20,46h1v1h-1zM21,12h1v1h-1zM22,32h1v1h-1zM23,21h1v1h-1zM23,39h1v1h-1zM24,10h1v1h-1zM24,24h1v1h-1zM24,47h1v1h-1zM26,7h1v1h-1zM26,18h1v1h-1zM27,29h1v1h-1zM27,37h1v1h-1zM29,4h1v1h-1zM29,13h1v1h-1zM29,24h1v1h-1zM30,44h1v1h-1zM31,10h1v1h-1zM31,31h1v1h-1zM32,1h1v1h-1zM32,16h1v1h-1zM32,36h1v1h-1zM33,5h1v1h-1zM33,27h1v1h-1zM34,9h1v1h-1zM34,22h1v1h-1zM35,39h1v1h-1zM35,44h1v1h-1zM36,13h1v1h-1zM36,33h1v1h-1zM37,19h1v1h-1zM37,28h1v1h-1zM38,5h1v1h-1zM39,16h1v1h-1zM39,34h1v1h-1zM39,39h1v1h-1zM40,21h1v1h-1zM40,26h1v1h-1zM41,2h1v1h-1zM41,10h1v1h-1zM41,43h1v1h-1zM42,18h1v1h-1zM42,31h1v1h-1zM43,25h1v1h-1zM44,34h1v1h-1zM44,39h1v1h-1zM44,44h1v1h-1zM45,15h1v1h-1zM46,3h1v1h-1zM46,6h1v1h-1zM46,24h1v1h-1zM47,12h1v1h-1zM47,28h1v1h-1zM47,32h1v1h-1z"/></pattern><pattern id="dC" width="48" height="48" patternUnits="userSpaceOnUse" shape-rendering="crispEdges"><path fill="#e5c6cd" d="M0,0h1v1h-1zM0,8h1v1h-1zM0,15h1v1h-1zM0,25h1v1h-1zM1,3h1v1h-1zM1,29h1v1h-1zM1,40h1v1h-1zM2,12h1v1h-1zM2,44h1v1h-1zM3,0h1v1h-1zM3,34h1v1h-1zM4,3h1v1h-1zM4,7h1v1h-1zM4,16h1v1h-1zM4,19h1v1h-1zM4,23h1v1h-1zM4,38h1v1h-1zM4,45h1v1h-1zM5,11h1v1h-1zM5,29h1v1h-1zM6,26h1v1h-1zM6,32h1v1h-1zM6,42h1v1h-1zM7,6h1v1h-1zM7,21h1v1h-1zM7,35h1v1h-1zM7,45h1v1h-1zM8,2h1v1h-1zM8,8h1v1h-1zM9,24h1v1h-1zM9,30h1v1h-1zM9,40h1v1h-1zM10,7h1v1h-1zM10,10h1v1h-1zM10,16h1v1h-1zM10,22h1v1h-1zM10,27h1v1h-1zM10,45h1v1h-1zM11,4h1v1h-1zM11,36h1v1h-1zM12,13h1v1h-1zM12,31h1v1h-1zM13,1h1v1h-1zM13,18h1v1h-1zM13,25h1v1h-1zM13,39h1v1h-1zM13,45h1v1h-1zM14,6h1v1h-1zM14,28h1v1h-1zM14,41h1v1h-1zM15,3h1v1h-1zM15,11h1v1h-1zM15,32h1v1h-1zM15,44h1v1h-1zM16,17h1v1h-1zM16,23h1v1h-1zM16,27h1v1h-1zM16,36h1v1h-1zM17,40h1v1h-1zM18,0h1v1h-1zM18,2h1v1h-1zM19,12h1v1h-1zM19,16h1v1h-1zM19,38h1v1h-1zM19,41h1v1h-1zM19,46h1v1h-1zM20,9h1v1h-1zM20,23h1v1h-1zM20,29h1v1h-1zM21,5h1v1h-1zM21,20h1v1h-1zM21,25h1v1h-1zM21,32h1v1h-1zM21,35h1v1h-1zM21,47h1v1h-1zM22,13h1v1h-1zM22,17h1v1h-1zM22,40h1v1h-1zM22,43h1v1h-1zM23,2h1v1h-1zM23,31h1v1h-1zM23,47h1v1h-1zM24,20h1v1h-1zM25,6h1v1h-1zM25,10h1v1h-1zM25,13h1v1h-1zM25,16h1v1h-1zM25,29h1v1h-1zM25,35h1v1h-1zM25,39h1v1h-1zM26,26h1v1h-1zM26,32h1v1h-1zM26,47h1v1h-1zM27,4h1v1h-1zM27,23h1v1h-1zM28,8h1v1h-1zM28,19h1v1h-1zM28,25h1v1h-1zM28,35h1v1h-1zM28,41h1v1h-1zM29,1h1v1h-1zM29,10h1v1h-1zM29,14h1v1h-1zM29,29h1v1h-1zM30,6h1v1h-1zM30,44h1v1h-1zM31,18h1v1h-1zM31,25h1v1h-1zM31,39h1v1h-1zM32,11h1v1h-1zM32,34h1v1h-1zM32,47h1v1h-1zM33,14h1v1h-1zM33,16h1v1h-1zM34,6h1v1h-1zM34,23h1v1h-1zM34,30h1v1h-1zM35,3h1v1h-1zM35,12h1v1h-1zM35,28h1v1h-1zM35,42h1v1h-1zM35,46h1v1h-1zM36,9h1v1h-1zM36,17h1v1h-1zM36,20h1v1h-1zM36,33h1v1h-1zM36,37h1v1h-1zM37,14h1v1h-1zM37,27h1v1h-1zM38,7h1v1h-1zM38,30h1v1h-1zM38,43h1v1h-1zM39,12h1v1h-1zM39,18h1v1h-1zM39,22h1v1h-1zM39,46h1v1h-1zM40,1h1v1h-1zM40,5h1v1h-1zM40,9h1v1h-1zM40,15h1v1h-1zM40,36h1v1h-1zM40,40h1v1h-1zM41,26h1v1h-1zM41,30h1v1h-1zM41,44h1v1h-1zM42,3h1v1h-1zM42,12h1v1h-1zM42,16h1v1h-1zM42,35h1v1h-1zM42,41h1v1h-1zM43,20h1v1h-1zM43,24h1v1h-1zM43,27h1v1h-1zM43,32h1v1h-1zM44,9h1v1h-1zM44,15h1v1h-1zM44,38h1v1h-1zM44,46h1v1h-1zM45,3h1v1h-1zM46,18h1v1h-1zM46,22h1v1h-1zM46,28h1v1h-1zM46,32h1v1h-1zM46,44h1v1h-1zM47,36h1v1h-1z"/></pattern><pattern id="dD" width="48" height="48" patternUnits="userSpaceOnUse" shape-rendering="crispEdges"><path fill="#e5c6cd" d="M0,1h1v1h-1zM0,22h1v1h-1zM0,29h1v1h-1zM0,36h1v1h-1zM1,9h1v1h-1zM1,17h1v1h-1zM1,34h1v1h-1zM1,37h1v1h-1zM2,7h1v1h-1zM2,19h1v1h-1zM2,23h1v1h-1zM2,42h1v1h-1zM3,0h1v1h-1zM3,3h1v1h-1zM3,13h1v1h-1zM3,21h1v1h-1zM3,27h1v1h-1zM3,30h1v1h-1zM3,41h1v1h-1zM3,46h1v1h-1zM4,6h1v1h-1zM4,32h1v1h-1zM4,38h1v1h-1zM5,2h1v1h-1zM5,10h1v1h-1zM5,17h1v1h-1zM5,24h1v1h-1zM5,26h1v1h-1zM5,45h1v1h-1zM6,5h1v1h-1zM6,8h1v1h-1zM6,20h1v1h-1zM6,29h1v1h-1zM6,43h1v1h-1zM7,11h1v1h-1zM7,17h1v1h-1zM7,33h1v1h-1zM7,37h1v1h-1zM7,47h1v1h-1zM8,6h1v1h-1zM8,14h1v1h-1zM8,40h1v1h-1zM9,3h1v1h-1zM9,18h1v1h-1zM9,27h1v1h-1zM10,7h1v1h-1zM10,10h1v1h-1zM10,21h1v1h-1zM10,34h1v1h-1zM10,36h1v1h-1zM10,41h1v1h-1zM10,44h1v1h-1zM11,1h1v1h-1zM11,14h1v1h-1zM11,23h1v1h-1zM11,31h1v1h-1zM11,46h1v1h-1zM12,5h1v1h-1zM12,8h1v1h-1zM12,11h1v1h-1zM12,19h1v1h-1zM12,37h1v1h-1zM13,33h1v1h-1zM13,46h1v1h-1zM14,0h1v1h-1zM14,5h1v1h-1zM14,7h1v1h-1zM14,12h1v1h-1zM14,15h1v1h-1zM14,20h1v1h-1zM14,28h1v1h-1zM14,42h1v1h-1zM15,2h1v1h-1zM15,24h1v1h-1zM15,32h1v1h-1zM15,36h1v1h-1zM15,45h1v1h-1zM16,8h1v1h-1zM16,10h1v1h-1zM16,26h1v1h-1zM16,40h1v1h-1zM17,2h1v1h-1zM17,6h1v1h-1zM17,13h1v1h-1zM17,19h1v1h-1zM17,24h1v1h-1zM17,34h1v1h-1zM17,38h1v1h-1zM17,43h1v1h-1zM17,47h1v1h-1zM18,9h1v1h-1zM18,16h1v1h-1zM18,21h1v1h-1zM18,41h1v1h-1zM19,0h1v1h-1zM19,26h1v1h-1zM19,29h1v1h-1zM19,36h1v1h-1zM20,2h1v1h-1zM20,8h1v1h-1zM20,12h1v1h-1zM20,16h1v1h-1zM20,38h1v1h-1zM20,44h1v1h-1zM21,4h1v1h-1zM21,21h1v1h-1zM21,23h1v1h-1zM21,25h1v1h-1zM21,41h1v1h-1zM22,9h1v1h-1zM22,14h1v1h-1zM22,17h1v1h-1zM22,29h1v1h-1zM22,31h1v1h-1zM22,34h1v1h-1zM23,4h1v1h-1zM23,7h1v1h-1zM23,19h1v1h-1zM23,38h1v1h-1zM23,40h1v1h-1zM24,2h1v1h-1zM24,22h1v1h-1zM24,47h1v1h-1zM25,12h1v1h-1zM25,15h1v1h-1zM25,28h1v1h-1zM25,32h1v1h-1zM25,36h1v1h-1zM25,38h1v1h-1zM25,42h1v1h-1zM26,7h1v1h-1zM26,26h1v1h-1zM26,45h1v1h-1zM27,2h1v1h-1zM27,5h1v1h-1zM27,9h1v1h-1zM27,20h1v1h-1zM28,13h1v1h-1zM28,17h1v1h-1zM28,23h1v1h-1zM28,27h1v1h-1zM28,34h1v1h-1zM28,38h1v1h-1zM28,43h1v1h-1zM29,21h1v1h-1zM29,36h1v1h-1zM29,39h1v1h-1zM29,46h1v1h-1zM30,1h1v1h-1zM30,7h1v1h-1zM30,10h1v1h-1zM30,24h1v1h-1zM30,29h1v1h-1zM31,15h1v1h-1zM31,18h1v1h-1zM31,26h1v1h-1zM31,44h1v1h-1zM32,20h1v1h-1zM32,36h1v1h-1zM32,39h1v1h-1zM33,3h1v1h-1zM33,6h1v1h-1zM33,11h1v1h-1zM33,28h1v1h-1zM33,31h1v1h-1zM33,42h1v1h-1zM34,8h1v1h-1zM34,15h1v1h-1zM34,24h1v1h-1zM34,39h1v1h-1zM34,47h1v1h-1zM35,2h1v1h-1zM35,18h1v1h-1zM35,22h1v1h-1zM35,36h1v1h-1zM35,45h1v1h-1zM36,4h1v1h-1zM36,12h1v1h-1zM36,16h1v1h-1zM36,28h1v1h-1zM36,32h1v1h-1zM37,1h1v1h-1zM37,7h1v1h-1zM37,10h1v1h-1zM37,23h1v1h-1zM37,26h1v1h-1zM38,5h1v1h-1zM38,15h1v1h-1zM38,30h1v1h-1zM38,34h1v1h-1zM38,38h1v1h-1zM38,43h1v1h-1zM38,47h1v1h-1zM39,19h1v1h-1zM39,21h1v1h-1zM40,26h1v1h-1zM40,33h1v1h-1zM40,41h1v1h-1zM40,46h1v1h-1zM41,2h1v1h-1zM41,7h1v1h-1zM41,11h1v1h-1zM41,23h1v1h-1zM41,29h1v1h-1zM41,36h1v1h-1zM42,13h1v1h-1zM42,19h1v1h-1zM42,40h1v1h-1zM42,43h1v1h-1zM43,4h1v1h-1zM43,9h1v1h-1zM43,15h1v1h-1zM43,32h1v1h-1zM43,45h1v1h-1zM44,23h1v1h-1zM44,41h1v1h-1zM45,0h1v1h-1zM45,8h1v1h-1zM45,21h1v1h-1zM45,28h1v1h-1zM45,38h1v1h-1zM46,12h1v1h-1zM46,17h1v1h-1zM46,24h1v1h-1zM46,32h1v1h-1zM46,35h1v1h-1zM47,4h1v1h-1zM47,7h1v1h-1zM47,26h1v1h-1zM47,40h1v1h-1zM47,43h1v1h-1zM47,46h1v1h-1z"/></pattern><pattern id="dE" width="48" height="48" patternUnits="userSpaceOnUse" shape-rendering="crispEdges"><path fill="#e5c6cd" d="M0,1h1v1h-1zM0,17h1v1h-1zM0,21h1v1h-1zM0,24h1v1h-1zM0,30h1v1h-1zM0,37h1v1h-1zM0,40h1v1h-1zM0,43h1v1h-1zM0,46h1v1h-1zM1,6h1v1h-1zM1,9h1v1h-1zM1,19h1v1h-1zM1,28h1v1h-1zM1,32h1v1h-1zM1,35h1v1h-1zM2,0h1v1h-1zM2,12h1v1h-1zM2,15h1v1h-1zM2,42h1v1h-1zM3,2h1v1h-1zM3,5h1v1h-1zM3,18h1v1h-1zM3,22h1v1h-1zM3,25h1v1h-1zM3,37h1v1h-1zM4,7h1v1h-1zM4,27h1v1h-1zM4,35h1v1h-1zM4,39h1v1h-1zM4,41h1v1h-1zM4,46h1v1h-1zM5,9h1v1h-1zM5,13h1v1h-1zM5,17h1v1h-1zM5,22h1v1h-1zM5,30h1v1h-1zM5,44h1v1h-1zM6,2h1v1h-1zM6,11h1v1h-1zM6,21h1v1h-1zM6,25h1v1h-1zM6,39h1v1h-1zM6,47h1v1h-1zM7,5h1v1h-1zM7,9h1v1h-1zM7,28h1v1h-1zM8,14h1v1h-1zM8,16h1v1h-1zM8,20h1v1h-1zM8,23h1v1h-1zM8,31h1v1h-1zM8,37h1v1h-1zM8,42h1v1h-1zM9,2h1v1h-1zM9,8h1v1h-1zM9,11h1v1h-1zM9,18h1v1h-1zM9,34h1v1h-1zM9,46h1v1h-1zM10,5h1v1h-1zM10,22h1v1h-1zM10,24h1v1h-1zM11,3h1v1h-1zM11,14h1v1h-1zM11,20h1v1h-1zM11,27h1v1h-1zM11,29h1v1h-1zM11,32h1v1h-1zM11,35h1v1h-1zM11,38h1v1h-1zM11,41h1v1h-1zM11,44h1v1h-1zM12,7h1v1h-1zM12,11h1v1h-1zM12,16h1v1h-1zM12,25h1v1h-1zM12,31h1v1h-1zM12,46h1v1h-1zM13,1h1v1h-1zM13,4h1v1h-1zM13,19h1v1h-1zM13,33h1v1h-1zM13,40h1v1h-1zM13,47h1v1h-1zM14,14h1v1h-1zM14,22h1v1h-1zM14,30h1v1h-1zM14,35h1v1h-1zM14,44h1v1h-1zM15,4h1v1h-1zM15,7h1v1h-1zM15,10h1v1h-1zM15,17h1v1h-1zM15,24h1v1h-1zM15,26h1v1h-1zM15,38h1v1h-1zM15,41h1v1h-1zM15,46h1v1h-1zM16,0h1v1h-1zM16,2h1v1h-1zM16,12h1v1h-1zM16,15h1v1h-1zM16,21h1v1h-1zM16,34h1v1h-1zM17,4h1v1h-1zM17,9h1v1h-1zM17,18h1v1h-1zM17,28h1v1h-1zM17,36h1v1h-1zM17,40h1v1h-1zM17,44h1v1h-1zM18,1h1v1h-1zM18,7h1v1h-1zM18,14h1v1h-1zM18,22h1v1h-1zM18,24h1v1h-1zM19,32h1v1h-1zM19,34h1v1h-1zM19,42h1v1h-1zM20,3h1v1h-1zM20,6h1v1h-1zM20,10h1v1h-1zM20,13h1v1h-1zM20,16h1v1h-1zM20,30h1v1h-1zM20,36h1v1h-1zM20,39h1v1h-1zM20,46h1v1h-1zM21,19h1v1h-1zM21,24h1v1h-1zM21,27h1v1h-1zM21,33h1v1h-1zM21,43h1v1h-1zM22,1h1v1h-1zM22,8h1v1h-1zM22,31h1v1h-1zM22,35h1v1h-1zM22,38h1v1h-1zM23,6h1v1h-1zM23,12h1v1h-1zM23,15h1v1h-1zM23,23h1v1h-1zM23,42h1v1h-1zM23,46h1v1h-1zM24,4h1v1h-1zM24,9h1v1h-1zM24,18h1v1h-1zM24,20h1v1h-1zM24,26h1v1h-1zM24,30h1v1h-1zM24,34h1v1h-1zM24,39h1v1h-1zM25,2h1v1h-1zM25,11h1v1h-1zM25,14h1v1h-1zM25,21h1v1h-1zM25,24h1v1h-1zM25,32h1v1h-1zM25,43h1v1h-1zM25,46h1v1h-1zM26,0h1v1h-1zM26,16h1v1h-1zM26,29h1v1h-1zM26,37h1v1h-1zM27,3h1v1h-1zM27,7h1v1h-1zM27,18h1v1h-1zM27,22h1v1h-1zM27,31h1v1h-1zM28,9h1v1h-1zM28,11h1v1h-1zM28,13h1v1h-1zM28,25h1v1h-1zM28,35h1v1h-1zM28,41h1v1h-1zM28,43h1v1h-1zM28,46h1v1h-1zM29,1h1v1h-1zM29,5h1v1h-1zM29,16h1v1h-1zM29,32h1v1h-1zM29,39h1v1h-1zM30,3h1v1h-1zM30,12h1v1h-1zM30,19h1v1h-1zM30,22h1v1h-1zM30,24h1v1h-1zM30,26h1v1h-1zM30,28h1v1h-1zM30,43h1v1h-1zM31,4h1v1h-1zM31,6h1v1h-1zM31,10h1v1h-1zM31,33h1v1h-1zM31,36h1v1h-1zM31,38h1v1h-1zM31,41h1v1h-1zM31,46h1v1h-1zM32,0h1v1h-1zM32,2h1v1h-1zM32,17h1v1h-1zM32,31h1v1h-1zM33,5h1v1h-1zM33,9h1v1h-1zM33,14h1v1h-1zM33,19h1v1h-1zM33,22h1v1h-1zM33,25h1v1h-1zM33,34h1v1h-1zM33,39h1v1h-1zM33,45h1v1h-1zM34,3h1v1h-1zM34,17h1v1h-1zM34,27h1v1h-1zM34,29h1v1h-1zM34,33h1v1h-1zM34,36h1v1h-1zM34,41h1v1h-1zM34,43h1v1h-1zM35,0h1v1h-1zM35,5h1v1h-1zM35,12h1v1h-1zM35,20h1v1h-1zM35,31h1v1h-1zM35,39h1v1h-1zM35,45h1v1h-1zM36,2h1v1h-1zM36,7h1v1h-1zM36,18h1v1h-1zM36,22h1v1h-1zM36,28h1v1h-1zM37,4h1v1h-1zM37,9h1v1h-1zM37,25h1v1h-1zM37,31h1v1h-1zM37,33h1v1h-1zM37,42h1v1h-1zM37,46h1v1h-1zM38,11h1v1h-1zM38,23h1v1h-1zM38,27h1v1h-1zM38,37h1v1h-1zM39,1h1v1h-1zM39,3h1v1h-1zM39,6h1v1h-1zM39,15h1v1h-1zM39,17h1v1h-1zM39,20h1v1h-1zM39,39h1v1h-1zM40,25h1v1h-1zM40,31h1v1h-1zM40,35h1v1h-1zM40,43h1v1h-1zM41,3h1v1h-1zM41,6h1v1h-1zM41,9h1v1h-1zM41,13h1v1h-1zM41,19h1v1h-1zM41,22h1v1h-1zM41,27h1v1h-1zM41,38h1v1h-1zM42,35h1v1h-1zM42,47h1v1h-1zM43,1h1v1h-1zM43,6h1v1h-1zM43,11h1v1h-1zM43,17h1v1h-1zM43,25h1v1h-1zM43,29h1v1h-1zM43,33h1v1h-1zM43,40h1v1h-1zM43,45h1v1h-1zM44,3h1v1h-1zM44,35h1v1h-1zM44,38h1v1h-1zM45,8h1v1h-1zM45,13h1v1h-1zM45,20h1v1h-1zM45,23h1v1h-1zM45,25h1v1h-1zM45,27h1v1h-1zM45,32h1v1h-1zM45,43h1v1h-1zM46,6h1v1h-1zM46,15h1v1h-1zM46,18h1v1h-1zM46,36h1v1h-1zM46,38h1v1h-1zM47,4h1v1h-1zM47,11h1v1h-1zM47,27h1v1h-1zM47,45h1v1h-1z"/></pattern><linearGradient id="ga0" gradientUnits="userSpaceOnUse" x1="805.7" y1="0.0" x2="871.7" y2="0.0" ><stop offset="0.0000" stop-color="#414141"/><stop offset="0.0010" stop-color="#343434"/><stop offset="0.3500" stop-color="#252525"/><stop offset="0.7000" stop-color="#181818"/><stop offset="0.9000" stop-color="#0c0c0c"/><stop offset="1.0000" stop-color="#030303"/></linearGradient><linearGradient id="ga1" gradientUnits="userSpaceOnUse" x1="930.9" y1="0.0" x2="996.9" y2="0.0" ><stop offset="0.0000" stop-color="#414141"/><stop offset="0.0010" stop-color="#343434"/><stop offset="0.3500" stop-color="#252525"/><stop offset="0.7000" stop-color="#181818"/><stop offset="0.9000" stop-color="#0c0c0c"/><stop offset="1.0000" stop-color="#030303"/></linearGradient><linearGradient id="ga2" gradientUnits="userSpaceOnUse" x1="1054.9" y1="0.0" x2="1120.9" y2="0.0" ><stop offset="0.0000" stop-color="#414141"/><stop offset="0.0010" stop-color="#343434"/><stop offset="0.3500" stop-color="#252525"/><stop offset="0.7000" stop-color="#181818"/><stop offset="0.9000" stop-color="#0c0c0c"/><stop offset="1.0000" stop-color="#030303"/></linearGradient></defs><rect width="1217" height="682" fill="#fbf9f8"/><g filter="url(#quant)"><rect x="720" y="68" width="154" height="109" fill="#000000"/><path d="M723.0,122.4 L775.7,71.1 L775.7,96.5 C814.7,96.5 847.7,86.5 871.7,71.5 L871.7,173.3 C847.7,158.3 814.7,148.3 775.7,148.3 L775.7,173.7 Z" fill="url(#ga0)"/><rect x="720" y="68" width="154" height="109" fill="url(#bay)" opacity="0.2"/></g><g filter="url(#quant)"><rect x="845" y="298" width="154" height="110" fill="#000000"/><path d="M848.2,353.0 L900.9,301.7 L900.9,327.1 C939.9,327.1 972.9,317.1 996.9,302.1 L996.9,403.9 C972.9,388.9 939.9,378.9 900.9,378.9 L900.9,404.3 Z" fill="url(#ga1)"/><rect x="845" y="298" width="154" height="110" fill="url(#bay)" opacity="0.2"/></g><g filter="url(#quant)"><rect x="969" y="516" width="154" height="110" fill="#000000"/><path d="M972.2,571.2 L1024.9,519.9 L1024.9,545.3 C1063.9,545.3 1096.9,535.3 1120.9,520.3 L1120.9,622.1 C1096.9,607.1 1063.9,597.1 1024.9,597.1 L1024.9,622.5 Z" fill="url(#ga2)"/><rect x="969" y="516" width="154" height="110" fill="url(#bay)" opacity="0.2"/></g><rect x="737" y="11" width="61" height="226" fill="url(#dA)"/><rect x="798" y="11" width="62" height="226" fill="url(#dB)"/><rect x="860" y="11" width="28" height="226" fill="url(#dC)"/><rect x="888" y="11" width="30" height="226" fill="url(#dD)"/><rect x="918" y="11" width="294" height="226" fill="url(#dE)"/><rect x="737" y="257" width="61" height="192" fill="url(#dA)"/><rect x="798" y="257" width="62" height="192" fill="url(#dB)"/><rect x="860" y="257" width="28" height="192" fill="url(#dC)"/><rect x="888" y="257" width="30" height="192" fill="url(#dD)"/><rect x="918" y="257" width="294" height="192" fill="url(#dE)"/><rect x="737" y="469" width="61" height="213" fill="url(#dA)"/><rect x="798" y="469" width="62" height="213" fill="url(#dB)"/><rect x="860" y="469" width="28" height="213" fill="url(#dC)"/><rect x="888" y="469" width="30" height="213" fill="url(#dD)"/><rect x="918" y="469" width="294" height="213" fill="url(#dE)"/><g filter="url(#quant)"><rect x="0" y="0" width="690" height="682" fill="#000000"/><path d="M88.7,456.2 C92.6,457.0 103.5,459.5 112.0,461.2 C120.5,462.9 131.2,464.8 140.0,466.2 C148.8,467.6 156.7,468.8 165.0,469.9 C173.3,471.0 181.7,472.0 190.0,472.9 C198.3,473.8 206.7,474.6 215.0,475.4 C223.3,476.1 230.5,476.8 240.0,477.4 C249.5,478.0 260.8,478.6 272.0,479.0 C283.2,479.4 301.4,479.8 307.3,480.0 L329,502 L351.0,480.0 C356.5,479.8 373.2,479.4 384.0,479.0 C394.8,478.6 406.5,478.0 416.0,477.4 C425.5,476.8 432.7,476.1 441.0,475.4 C449.3,474.6 457.7,473.8 466.0,472.9 C474.3,472.0 482.7,471.0 491.0,469.9 C499.3,468.8 507.2,467.6 516.0,466.2 C524.8,464.8 535.6,462.7 544.0,461.2 C552.4,459.7 562.6,457.9 566.3,457.2 L651.8,617.3 L651.8,617.3 L651.4,620.5 L650.0,623.7 L647.8,627.0 L644.7,630.1 L640.8,633.3 L636.0,636.4 L630.3,639.4 L623.8,642.4 L616.5,645.3 L608.4,648.1 L599.6,650.9 L590.0,653.6 L579.7,656.1 L568.7,658.6 L557.0,660.9 L544.7,663.2 L531.8,665.2 L518.4,667.2 L504.4,669.0 L490.0,670.7 L475.1,672.3 L459.8,673.7 L444.1,674.9 L428.2,676.0 L411.9,676.9 L395.4,677.7 L378.8,678.2 L362.0,678.7 L345.1,678.9 L328.1,679.0 L311.2,678.9 L294.3,678.7 L277.5,678.2 L260.9,677.7 L244.4,676.9 L228.1,676.0 L212.2,674.9 L196.5,673.7 L181.2,672.3 L166.3,670.7 L151.9,669.0 L137.9,667.2 L124.5,665.2 L111.6,663.2 L99.3,660.9 L87.6,658.6 L76.6,656.1 L66.3,653.6 L56.7,650.9 L47.9,648.1 L39.8,645.3 L32.5,642.4 L26.0,639.4 L20.3,636.4 L15.5,633.3 L11.6,630.1 L8.5,627.0 L6.3,623.7 L4.9,620.5 L4.5,617.3 Z" fill="url(#g3)"/><path d="M4.5,617.3 L4.9,620.5 L6.3,623.7 L8.5,627.0 L11.6,630.1 L15.5,633.3 L20.3,636.4 L26.0,639.4 L32.5,642.4 L39.8,645.3 L47.9,648.1 L56.7,650.9 L66.3,653.6 L76.6,656.1 L87.6,658.6 L99.3,660.9 L111.6,663.2 L124.5,665.2 L137.9,667.2 L151.9,669.0 L166.3,670.7 L181.2,672.3 L196.5,673.7 L212.2,674.9 L228.1,676.0 L244.4,676.9 L260.9,677.7 L277.5,678.2 L294.3,678.7 L311.2,678.9 L328.1,679.0 L345.1,678.9 L362.0,678.7 L378.8,678.2 L395.4,677.7 L411.9,676.9 L428.2,676.0 L444.1,674.9 L459.8,673.7 L475.1,672.3 L490.0,670.7 L504.4,669.0 L518.4,667.2 L531.8,665.2 L544.7,663.2 L557.0,660.9 L568.7,658.6 L579.7,656.1 L590.0,653.6 L599.6,650.9 L608.4,648.1 L616.5,645.3 L623.8,642.4 L630.3,639.4 L636.0,636.4 L640.8,633.3 L644.7,630.1 L647.8,627.0 L650.0,623.7 L651.4,620.5 L651.8,617.3 L651.4,614.3 L650.0,611.4 L647.8,608.4 L644.7,605.5 L640.8,602.6 L636.0,599.7 L630.3,596.9 L623.8,594.2 L616.5,591.5 L608.4,588.9 L599.6,586.4 L590.0,583.9 L579.7,581.6 L568.7,579.3 L557.0,577.1 L544.7,575.1 L531.8,573.2 L518.4,571.3 L504.4,569.7 L490.0,568.1 L475.1,566.7 L459.8,565.4 L444.1,564.3 L428.2,563.3 L411.9,562.4 L395.4,561.7 L378.8,561.2 L362.0,560.8 L345.1,560.6 L328.1,560.5 L311.2,560.6 L294.3,560.8 L277.5,561.2 L260.9,561.7 L244.4,562.4 L228.1,563.3 L212.2,564.3 L196.5,565.4 L181.2,566.7 L166.3,568.1 L151.9,569.7 L137.9,571.3 L124.5,573.2 L111.6,575.1 L99.3,577.1 L87.6,579.3 L76.6,581.6 L66.3,583.9 L56.7,586.4 L47.9,588.9 L39.8,591.5 L32.5,594.2 L26.0,596.9 L20.3,599.7 L15.5,602.6 L11.6,605.5 L8.5,608.4 L6.3,611.4 L4.9,614.3 L4.5,617.3 Z" fill="url(#ge3)"/><path d="M198.1,251.6 C202.6,252.2 215.5,253.9 225.0,255.0 C234.5,256.1 245.3,257.2 255.0,258.1 C264.7,259.0 273.9,259.8 283.0,260.4 C292.1,261.0 305.4,261.6 309.9,261.8 L329,280 L348.1,261.8 C353.1,261.4 368.1,260.4 378.0,259.6 C387.9,258.8 398.4,257.6 407.4,256.8 C416.4,256.0 423.6,255.3 432.0,254.6 C440.4,253.8 453.3,252.7 457.6,252.3 L551.9,432.3 C549.2,432.7 542.0,433.7 536.0,434.8 C530.0,435.9 523.5,437.4 516.0,438.7 C508.5,440.0 499.3,441.6 491.0,442.8 C482.7,444.1 474.3,445.2 466.0,446.2 C457.7,447.2 449.3,448.1 441.0,448.8 C432.7,449.6 425.2,450.1 416.0,450.7 C406.8,451.3 396.4,451.8 386.0,452.2 C375.6,452.6 363.4,452.8 353.7,453.0 C344.0,453.2 336.6,453.2 328.0,453.2 C319.4,453.2 312.0,453.2 302.3,453.0 C292.6,452.8 280.4,452.6 270.0,452.2 C259.6,451.8 249.2,451.3 240.0,450.7 C230.8,450.1 223.3,449.6 215.0,448.8 C206.7,448.1 198.3,447.2 190.0,446.2 C181.7,445.2 173.3,444.1 165.0,442.8 C156.7,441.6 147.5,440.0 140.0,438.7 C132.5,437.4 126.0,436.1 120.0,434.8 C114.0,433.6 106.8,431.8 104.2,431.2 Z" fill="url(#g2)"/><path d="M104.2,431.2 C106.8,431.8 114.0,433.6 120.0,434.8 C126.0,436.1 132.5,437.4 140.0,438.7 C147.5,440.0 156.7,441.6 165.0,442.8 C173.3,444.1 181.7,445.2 190.0,446.2 C198.3,447.2 206.7,448.1 215.0,448.8 C223.3,449.6 230.8,450.1 240.0,450.7 C249.2,451.3 259.6,451.8 270.0,452.2 C280.4,452.6 292.6,452.8 302.3,453.0 C312.0,453.2 319.4,453.2 328.0,453.2 C336.6,453.2 344.0,453.2 353.7,453.0 C363.4,452.8 375.6,452.6 386.0,452.2 C396.4,451.8 406.8,451.3 416.0,450.7 C425.2,450.1 432.7,449.6 441.0,448.8 C449.3,448.1 457.7,447.2 466.0,446.2 C474.3,445.2 482.7,444.1 491.0,442.8 C499.3,441.6 508.5,440.0 516.0,438.7 C523.5,437.4 530.0,435.9 536.0,434.8 C542.0,433.7 549.2,432.7 551.9,432.3 L551.8,431.8 L551.1,429.6 L549.0,427.4 L545.6,425.3 L540.8,423.1 L534.8,421.1 L527.4,419.1 L518.8,417.2 L509.1,415.3 L498.2,413.6 L486.3,412.0 L473.3,410.5 L459.5,409.1 L444.9,407.9 L429.6,406.9 L413.6,405.9 L397.2,405.2 L380.2,404.6 L363.0,404.1 L345.6,403.9 L328.0,403.8 L310.4,403.9 L293.0,404.1 L275.8,404.6 L258.8,405.2 L242.4,405.9 L226.4,406.9 L211.1,407.9 L196.5,409.1 L182.7,410.5 L169.7,412.0 L157.8,413.6 L146.9,415.3 L137.2,417.2 L128.6,419.1 L121.2,421.1 L115.2,423.1 L110.4,425.3 L107.0,427.4 L104.9,429.6 L104.2,431.8 Z" fill="url(#ge2)"/><path d="M302,452.5 L355.5,452.5 L329,480 Z" fill="url(#gq2)"/><path d="M327.6,5.8 L211.2,227.7 C214.7,228.2 224.7,229.8 232.0,230.8 C239.3,231.8 247.0,232.7 255.0,233.5 C263.0,234.3 271.7,235.0 280.0,235.6 C288.3,236.2 297.0,236.8 305.0,237.1 C313.0,237.4 319.8,237.6 328.0,237.5 C336.2,237.4 345.6,237.2 354.3,236.8 C363.0,236.4 371.1,235.9 380.0,235.2 C388.9,234.5 399.4,233.5 407.4,232.5 C415.4,231.5 422.0,230.4 428.0,229.3 C434.0,228.2 440.9,226.7 443.5,226.2 Z" fill="url(#g1)"/><path d="M211.2,227.7 C214.7,228.2 224.7,229.8 232.0,230.8 C239.3,231.8 247.0,232.7 255.0,233.5 C263.0,234.3 271.7,235.0 280.0,235.6 C288.3,236.2 297.0,236.8 305.0,237.1 C313.0,237.4 319.8,237.6 328.0,237.5 C336.2,237.4 345.6,237.2 354.3,236.8 C363.0,236.4 371.1,235.9 380.0,235.2 C388.9,234.5 399.4,233.5 407.4,232.5 C415.4,231.5 422.0,230.4 428.0,229.3 C434.0,228.2 440.9,226.7 443.5,226.2 L444.0,226.8 L443.0,225.3 L440.0,223.8 L435.2,222.4 L428.5,221.1 L420.0,219.9 L410.0,218.7 L398.6,217.8 L386.0,216.9 L372.4,216.3 L358.0,215.8 L343.1,215.5 L328.0,215.4 L312.9,215.5 L298.0,215.8 L283.6,216.3 L270.0,216.9 L257.4,217.8 L246.0,218.7 L236.0,219.9 L227.5,221.1 L220.8,222.4 L216.0,223.8 L213.0,225.3 L212.0,226.8 Z" fill="url(#ge1)"/><path d="M304,236.5 L354.5,236.5 L329,261 Z" fill="url(#gq1)"/><rect x="0" y="0" width="690" height="682" fill="url(#bay)" opacity="0.2"/></g><g stroke="#ffffff" stroke-opacity=".26" stroke-width="1" fill="none"><path d="M327.5,8 V237 M327.5,252 V260.5 M329,251.5 H338 M327.5,281 V453 M327.5,465 V479.5 M327.5,503 V679"/><path d="M285,215.6 H372" stroke-opacity=".12"/><path d="M332,237.3 H352" stroke-opacity=".25"/><path d="M302,453 H356" stroke-opacity=".2"/><path d="M106.4,427.9 L108.5,426.3 L111.3,424.8 L114.9,423.3 L119.1,421.8 L123.9,420.3 L129.5,418.9 L135.7,417.5 L142.5,416.1 L149.9,414.9 L157.8,413.6 L166.3,412.4 L175.4,411.3 L184.9,410.3 L194.9,409.3 L205.3,408.4 L216.1,407.6" stroke-opacity=".18" stroke-dasharray="5 3"/></g></svg><div class="t w" style="left:328.6px;top:110.0px">Audit</div><div class="t w" style="left:328.6px;top:136.3px">Committee</div><div class="t w" style="left:328.6px;top:162.6px">of the Board</div><div class="t w" style="left:328.6px;top:188.8px">of Directors</div><div class="t w" style="left:328.3px;top:338.5px">Audit Department</div><div class="t w" style="left:328.5px;top:560.1px">Relevant Business Units</div><div class="t d" style="left:455.5px;top:109.0px">Third line of defense</div><div class="t d" style="left:566.2px;top:342.5px">Second line of defense</div><div class="t d" style="left:713.0px;top:561.1px">First line of defense</div></body></html>
